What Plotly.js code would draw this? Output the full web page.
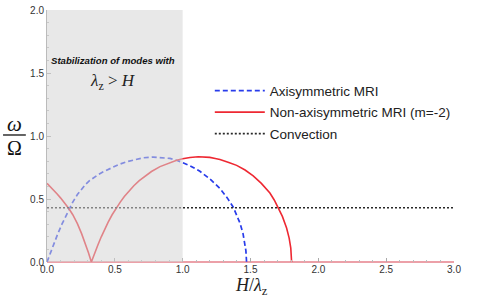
<!DOCTYPE html>
<html>
<head>
<meta charset="utf-8">
<script src="https://cdn.plot.ly/plotly-3.0.1.min.js"></script>
<style>html,body{margin:0;padding:0;background:#fff;}#chart{width:491px;height:300px;}</style>
</head>
<body>
<div id="chart"></div>
<script>
// Axisymmetric MRI (blue dashed)
const axiX = [0, 0.025, 0.052, 0.08, 0.11, 0.14, 0.165, 0.19, 0.224, 0.255, 0.285, 0.315, 0.347, 0.38, 0.408, 0.464, 0.525, 0.587, 0.65, 0.71, 0.783, 0.85, 0.906, 0.96, 1.005, 1.054, 1.127, 1.2, 1.275, 1.33, 1.373, 1.422, 1.445, 1.459, 1.466, 1.471];
const axiY = [0, 0.075, 0.152, 0.225, 0.3, 0.37, 0.425, 0.475, 0.535, 0.58, 0.617, 0.647, 0.673, 0.695, 0.712, 0.743, 0.772, 0.796, 0.814, 0.827, 0.833, 0.83, 0.822, 0.806, 0.786, 0.764, 0.72, 0.66, 0.583, 0.507, 0.435, 0.31, 0.225, 0.15, 0.09, 0];
// Non-axisymmetric MRI, m = -2 (red solid)
const nonX = [0, 0.025, 0.052, 0.075, 0.101, 0.13, 0.162, 0.19, 0.224, 0.255, 0.285, 0.305, 0.327, 0.35, 0.375, 0.4, 0.425, 0.45, 0.48, 0.51, 0.54, 0.57, 0.6, 0.64, 0.68, 0.72, 0.77, 0.833, 0.9, 0.956, 1.0, 1.054, 1.115, 1.16, 1.2, 1.24, 1.275, 1.34, 1.398, 1.46, 1.52, 1.58, 1.643, 1.675, 1.705, 1.735, 1.766, 1.785, 1.797, 1.803];
const nonY = [0.624, 0.598, 0.568, 0.54, 0.507, 0.468, 0.422, 0.375, 0.305, 0.225, 0.14, 0.075, 0, 0.07, 0.135, 0.2, 0.26, 0.315, 0.375, 0.43, 0.475, 0.52, 0.56, 0.605, 0.645, 0.68, 0.718, 0.757, 0.788, 0.808, 0.82, 0.83, 0.835, 0.834, 0.83, 0.822, 0.813, 0.79, 0.767, 0.73, 0.683, 0.624, 0.547, 0.492, 0.43, 0.362, 0.27, 0.19, 0.11, 0];
// Convection (black dotted)
const convX = [0, 3];
const convY = [0.43, 0.43];
// Stabilized region H/lambda_z in [0, 1]
const stabRange = [0, 1];
const xTicks = [0, 0.5, 1, 1.5, 2, 2.5, 3];
const xTickText = ["0.0", "0.5", "1.0", "1.5", "2.0", "2.5", "3.0"];
const yTicks = [0, 0.5, 1, 1.5, 2];
const yTickText = ["0.0", "0.5", "1.0", "1.5", "2.0"];
const seriesNames = ["Axisymmetric MRI", "Non-axisymmetric MRI (m=-2)", "Convection"];

const traces = [
  {x: axiX, y: axiY, type: 'scatter', mode: 'lines', name: seriesNames[0], legendgroup: 'a',
   line: {color: 'rgb(40,60,235)', width: 1.7, dash: '5px,3px'}},
  {x: nonX, y: nonY, type: 'scatter', mode: 'lines', name: seriesNames[1], legendgroup: 'b',
   line: {color: 'rgb(238,40,50)', width: 1.6}},
  {x: convX, y: convY, type: 'scatter', mode: 'lines', name: seriesNames[2], legendgroup: 'c',
   line: {color: 'rgb(40,40,40)', width: 1.6, dash: '2px,2px'}}
];

const layout = {
  width: 491, height: 300,
  margin: {l: 47, r: 37, t: 10, b: 38},
  paper_bgcolor: '#fff', plot_bgcolor: '#fff',
  font: {family: 'Liberation Sans, Arial, sans-serif', size: 10, color: '#333'},
  showlegend: true,
  legend: {x: 0.40, y: 0.741, xanchor: 'left', yanchor: 'top', bgcolor: 'rgba(0,0,0,0)',
           font: {family: 'Liberation Sans, Arial, sans-serif', size: 13.5, color: '#222'},
           itemwidth: 50, tracegroupgap: 1, traceorder: 'grouped'},
  xaxis: {range: [0, 3], tickvals: xTicks, ticktext: xTickText, showgrid: false, zeroline: false,
          showline: false, ticks: 'inside', ticklen: 4, tickcolor: '#aaa', tickwidth: 1,
          tickfont: {size: 10, color: '#333'},
          minor: {dtick: 0.1, ticks: 'inside', ticklen: 2, tickcolor: '#bbb', showgrid: false}},
  yaxis: {range: [0, 2], tickvals: yTicks, ticktext: yTickText, showgrid: false,
          zeroline: true, zerolinecolor: 'rgb(236,160,168)', zerolinewidth: 2.2,
          showline: true, linecolor: '#bbb', linewidth: 1,
          ticks: 'inside', ticklen: 4, tickcolor: '#aaa', tickwidth: 1,
          tickfont: {size: 10, color: '#333'},
          minor: {dtick: 0.1, ticks: 'inside', ticklen: 2, tickcolor: '#bbb', showgrid: false}},
  shapes: [
    {type: 'rect', xref: 'x', yref: 'paper', x0: stabRange[0], x1: stabRange[1], y0: 0, y1: 1,
     fillcolor: 'rgba(212,212,212,0.535)', line: {width: 0}, layer: 'above'},
    {type: 'line', xref: 'paper', yref: 'paper', x0: -0.108, x1: -0.052, y0: 0.504, y1: 0.504,
     line: {color: '#111', width: 1.3}}
  ],
  annotations: [
    {xref: 'paper', yref: 'paper', x: 0.162, y: 0.798, xanchor: 'center', yanchor: 'middle', showarrow: false,
     text: '<b><i>Stabilization of modes with</i></b>',
     font: {family: 'Liberation Sans, Arial, sans-serif', size: 9.6, color: '#111'}},
    {xref: 'paper', yref: 'paper', x: 0.162, y: 0.714, xanchor: 'center', yanchor: 'middle', showarrow: false,
     text: '<i>λ</i><sub>z</sub> > <i>H</i>',
     font: {family: 'Liberation Serif, Times New Roman, serif', size: 17, color: '#222'}},
    {xref: 'paper', yref: 'paper', x: -0.08, y: 0.548, xanchor: 'center', yanchor: 'middle', showarrow: false,
     text: '<i>ω</i>',
     font: {family: 'Liberation Serif, Times New Roman, serif', size: 21, color: '#111'}},
    {xref: 'paper', yref: 'paper', x: -0.08, y: 0.452, xanchor: 'center', yanchor: 'middle', showarrow: false,
     text: 'Ω',
     font: {family: 'Liberation Serif, Times New Roman, serif', size: 20, color: '#111'}},
    {xref: 'paper', yref: 'paper', x: 0.503, y: -0.099, xanchor: 'center', yanchor: 'middle', showarrow: false,
     text: '<i>H</i>/<i>λ</i><sub>z</sub>',
     font: {family: 'Liberation Serif, Times New Roman, serif', size: 18, color: '#222'}}
  ]
};

Plotly.newPlot('chart', traces, layout, {displayModeBar: false, staticPlot: true});
</script>
</body>
</html>
